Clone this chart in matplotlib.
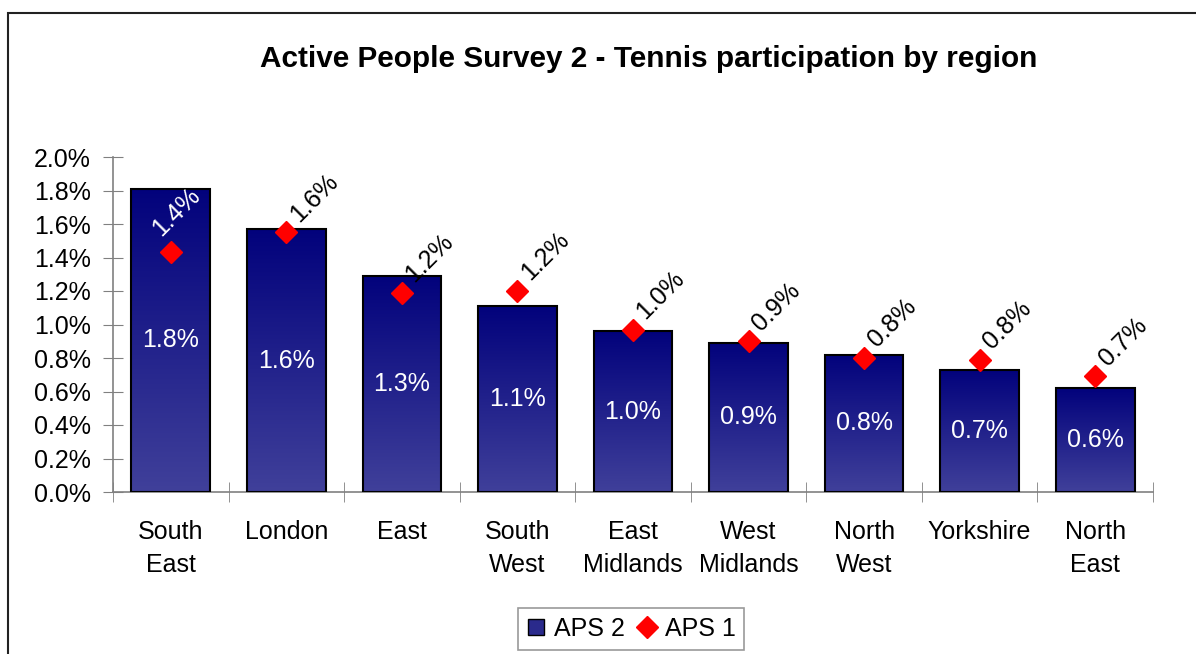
import numpy as np
import matplotlib.pyplot as plt
from matplotlib.patches import Rectangle
from matplotlib.colors import LinearSegmentedColormap
from matplotlib.lines import Line2D

plt.rcParams['font.family'] = ['Liberation Sans', 'DejaVu Sans']

regions = ['South\nEast', 'London', 'East', 'South\nWest', 'East\nMidlands',
           'West\nMidlands', 'North\nWest', 'Yorkshire', 'North\nEast']
aps2 = [1.81, 1.57, 1.29, 1.11, 0.96, 0.89, 0.82, 0.73, 0.62]
aps1 = [1.43, 1.55, 1.19, 1.20, 0.97, 0.90, 0.80, 0.79, 0.69]
aps2_labels = ['1.8%', '1.6%', '1.3%', '1.1%', '1.0%', '0.9%', '0.8%', '0.7%', '0.6%']
aps1_labels = ['1.4%', '1.6%', '1.2%', '1.2%', '1.0%', '0.9%', '0.8%', '0.8%', '0.7%']

W, H = 1196, 654
fig = plt.figure(figsize=(W / 100, H / 100), dpi=100)

# outer chart border (runs off the right and bottom edges)
fig.patches.append(Rectangle((8 / W, -0.05), 1.1, (H - 13) / H + 0.05,
                             transform=fig.transFigure, fill=False,
                             edgecolor='#222222', lw=1.5))

ax = fig.add_axes([113 / W, 162 / H, 1040 / W, 335 / H])
x = np.arange(len(regions))
width = 0.68

cmap = LinearSegmentedColormap.from_list('navy', ['#02027c', '#40409a'])
grad = np.linspace(0, 1, 256).reshape(-1, 1)
bars = ax.bar(x, aps2, width=width, facecolor='none', edgecolor='black', lw=1.5, zorder=3)
for b in bars:
    x0, y0 = b.get_x(), b.get_y()
    im = ax.imshow(grad, cmap=cmap, aspect='auto', origin='upper',
                   extent=[x0, x0 + b.get_width(), y0, y0 + b.get_height()], zorder=2)
    im.set_clip_path(b)

for xi, v, lab in zip(x, aps2, aps2_labels):
    ax.text(xi, v / 2, lab, color='white', ha='center', va='center', fontsize=18, zorder=4)

ax.plot(x, aps1, ls='none', marker='D', color='#ff0000', markersize=11, zorder=5)
# the South East label sits inside its bar, so it is white and nudged left
for i, (xi, v, lab) in enumerate(zip(x, aps1, aps1_labels)):
    inside = i == 0
    ax.annotate(lab, (xi, v), xytext=(-7, 11) if inside else (9, 7),
                textcoords='offset points', rotation=45, rotation_mode='anchor',
                ha='left', va='baseline', fontsize=18,
                color='white' if inside else 'black', zorder=6)

ax.set_xlim(-0.5, len(regions) - 0.5)
ax.set_ylim(0, 2.0)
ax.set_yticks(np.arange(0, 2.01, 0.2))
ax.set_yticklabels([f'{t:.1f}%' for t in np.arange(0, 2.01, 0.2)], fontsize=18)
ax.set_xticks(x)
ax.set_xticklabels(regions, fontsize=18, linespacing=1.45)
ax.set_xticks(np.arange(-0.5, len(regions), 1), minor=True)
ax.tick_params(axis='x', which='major', length=0, pad=20.5)
ax.tick_params(axis='x', which='minor', direction='inout', length=14, color='#808080')
ax.tick_params(axis='y', direction='inout', length=14, color='#808080', pad=9)
for s in ['top', 'right']:
    ax.spines[s].set_visible(False)
for s in ['left', 'bottom']:
    ax.spines[s].set_color('#808080')
    ax.spines[s].set_linewidth(1.2)

fig.text(649 / W, 1 - 59 / H, 'Active People Survey 2 - Tennis participation by region',
         ha='center', va='center', fontsize=21.4, fontweight='bold')

handles = [Line2D([], [], ls='none', marker='s', markersize=11, markerfacecolor='#2a2a8c',
                  markeredgecolor='black'),
           Line2D([], [], ls='none', marker='D', markersize=11, color='#ff0000')]
leg = fig.legend(handles, ['APS 2', 'APS 1'], loc='upper center',
                 bbox_to_anchor=(631 / W, 1 - 608 / H), borderaxespad=0, ncol=2,
                 fontsize=18, frameon=True, fancybox=False, handlelength=0.8,
                 handletextpad=0.3, columnspacing=0.5, borderpad=0.35)
leg.get_frame().set_edgecolor('#808080')
leg.get_frame().set_linewidth(1.2)

fig.savefig('out.png', dpi=100)
